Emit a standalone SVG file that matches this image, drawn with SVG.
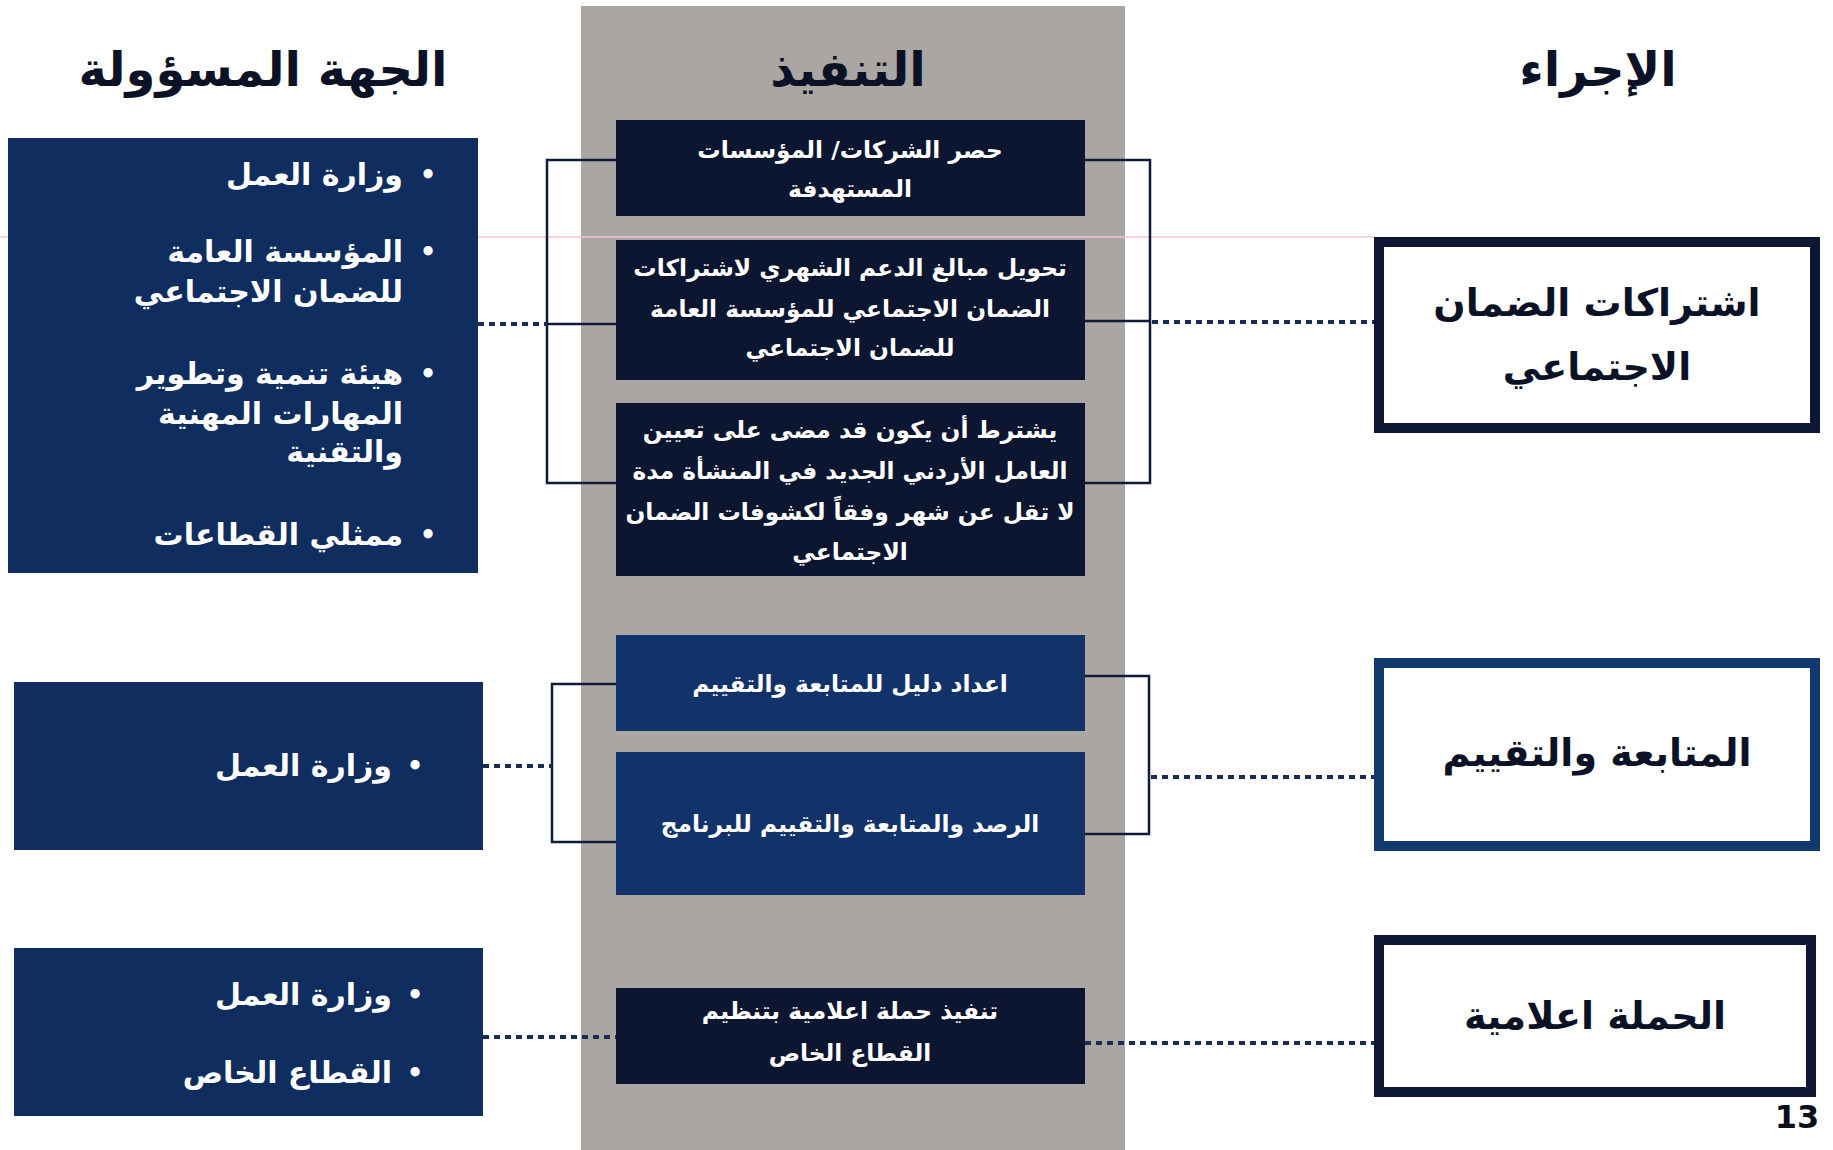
<svg xmlns="http://www.w3.org/2000/svg" width="1833" height="1150" viewBox="0 0 1833 1150">
<style>
text{font-family:'DejaVu Sans','Noto Sans',sans-serif;}
.title{font-size:48px;font-weight:bold;fill:#0b1226;text-anchor:middle;}
.lt{font-size:30px;font-weight:bold;fill:#ffffff;direction:rtl;text-anchor:start;}
.bul{font-size:26px;font-weight:bold;fill:#ffffff;text-anchor:middle;}
.ct{font-size:23.3px;font-weight:bold;fill:#ffffff;text-anchor:middle;direction:rtl;}
.rt{font-size:38px;font-weight:bold;fill:#0b1226;text-anchor:middle;direction:rtl;}
.navy{fill:#0f2d5e;}
.dark{fill:#0c1631;}
.blue{fill:#12336a;}
.rbox{fill:#ffffff;stroke-width:10;}
.br{fill:none;stroke:#111a36;stroke-width:2.5;}
.dot{fill:none;stroke:#1a2b55;stroke-width:4;stroke-dasharray:6 5;}
</style>
<rect x="0" y="0" width="1833" height="1150" fill="#ffffff"/>
<rect x="581" y="6" width="544" height="1144" fill="#aaa6a3"/>
<line x1="0" y1="237" x2="1374" y2="237" stroke="#f2c4d2" stroke-width="1.5"/>

<text class="title" x="263" y="86" direction="rtl">الجهة المسؤولة</text>
<text class="title" x="848" y="86" direction="rtl">التنفيذ</text>
<text class="title" x="1598" y="86" direction="rtl">الإجراء</text>

<g id="connectors">
<path class="br" d="M616,160 H547 V483 H616 M547,324 H616"/>
<path class="br" d="M1085,160 H1150 V483 H1085 M1085,321 H1150"/>
<path class="dot" d="M478,324 H547"/>
<path class="dot" d="M1152,322 H1374"/>
<path class="br" d="M616,684 H552 V842 H616"/>
<path class="br" d="M1085,676 H1149 V834 H1085"/>
<path class="dot" d="M483,766 H552"/>
<path class="dot" d="M1151,777 H1374"/>
<path class="dot" d="M483,1037 H616"/>
<path class="dot" d="M1085,1043 H1374"/>
</g>

<g id="resp1">
<rect class="navy" x="8" y="138" width="470" height="435"/>
<text class="bul" x="428" y="184">•</text>
<text class="lt" x="403" y="185">وزارة العمل</text>
<text class="bul" x="428" y="261">•</text>
<text class="lt" x="403" y="262">المؤسسة العامة</text>
<text class="lt" x="403" y="302">للضمان الاجتماعي</text>
<text class="bul" x="428" y="383">•</text>
<text class="lt" x="403" y="384">هيئة تنمية وتطوير</text>
<text class="lt" x="403" y="424">المهارات المهنية</text>
<text class="lt" x="403" y="462">والتقنية</text>
<text class="bul" x="428" y="544">•</text>
<text class="lt" x="403" y="545">ممثلي القطاعات</text>
</g>

<g id="resp2">
<rect class="navy" x="14" y="682" width="469" height="168"/>
<text class="bul" x="415" y="775">•</text>
<text class="lt" x="392" y="776">وزارة العمل</text>
</g>

<g id="resp3">
<rect class="navy" x="14" y="948" width="469" height="168"/>
<text class="bul" x="415" y="1004">•</text>
<text class="lt" x="392" y="1005">وزارة العمل</text>
<text class="bul" x="415" y="1082">•</text>
<text class="lt" x="392" y="1083">القطاع الخاص</text>
</g>

<g id="impl1">
<rect class="dark" x="616" y="120" width="469" height="96"/>
<text class="ct" x="850" y="158">حصر الشركات/ المؤسسات</text>
<text class="ct" x="850" y="197">المستهدفة</text>
</g>
<g id="impl2">
<rect class="dark" x="616" y="240" width="469" height="140"/>
<text class="ct" x="850" y="276">تحويل مبالغ الدعم الشهري لاشتراكات</text>
<text class="ct" x="850" y="317">الضمان الاجتماعي للمؤسسة العامة</text>
<text class="ct" x="850" y="356">للضمان الاجتماعي</text>
</g>
<g id="impl3">
<rect class="dark" x="616" y="403" width="469" height="173"/>
<text class="ct" x="850" y="438">يشترط أن يكون قد مضى على تعيين</text>
<text class="ct" x="850" y="479">العامل الأردني الجديد في المنشأة مدة</text>
<text class="ct" x="850" y="520">لا تقل عن شهر وفقاً لكشوفات الضمان</text>
<text class="ct" x="850" y="560">الاجتماعي</text>
</g>
<g id="impl4">
<rect class="blue" x="616" y="635" width="469" height="96"/>
<text class="ct" x="850" y="692">اعداد دليل للمتابعة والتقييم</text>
</g>
<g id="impl5">
<rect class="blue" x="616" y="752" width="469" height="143"/>
<text class="ct" x="850" y="832">الرصد والمتابعة والتقييم للبرنامج</text>
</g>
<g id="impl6">
<rect class="dark" x="616" y="988" width="469" height="96"/>
<text class="ct" x="850" y="1019">تنفيذ حملة اعلامية بتنظيم</text>
<text class="ct" x="850" y="1061">القطاع الخاص</text>
</g>

<g id="action1">
<rect class="rbox" x="1379" y="242" width="436" height="186" stroke="#0d1733"/>
<text class="rt" x="1597" y="316">اشتراكات الضمان</text>
<text class="rt" x="1597" y="380">الاجتماعي</text>
</g>
<g id="action2">
<rect class="rbox" x="1379" y="663" width="436" height="183" stroke="#133a6e"/>
<text class="rt" x="1597" y="766">المتابعة والتقييم</text>
</g>
<g id="action3">
<rect class="rbox" x="1379" y="940" width="432" height="152" stroke="#0d1733"/>
<text class="rt" x="1595" y="1029">الحملة اعلامية</text>
</g>

<text x="1797" y="1128" font-size="32" font-weight="bold" fill="#0b0f1a" text-anchor="middle">13</text>
</svg>
